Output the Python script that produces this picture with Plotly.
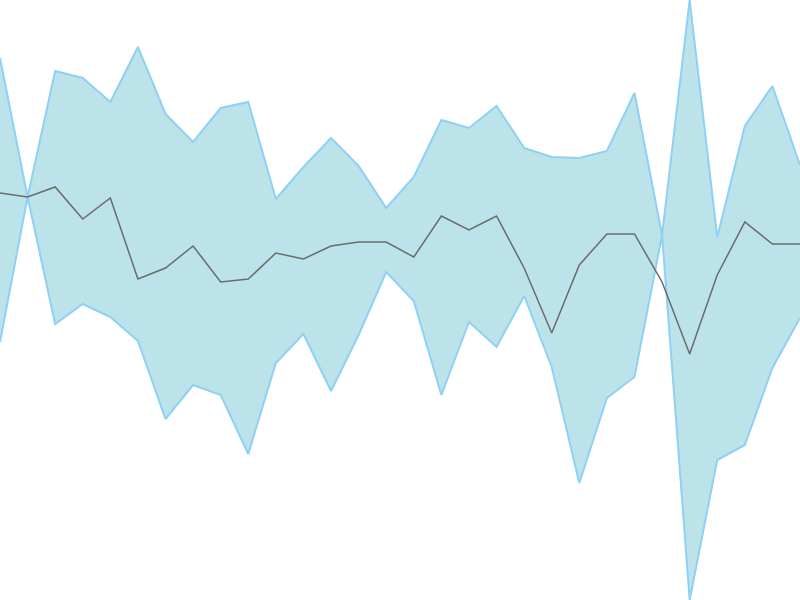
import plotly.graph_objects as go

x = list(range(30))

# band edges and centre line (0 = bottom, 600 = top)
upper = [542, 403, 529, 522, 498, 553, 486, 458, 492, 498,
         401, 433, 462, 434, 392, 423, 480, 472, 494, 452,
         443, 442, 449, 507, 365, 600, 363, 474, 514, 435]
lower = [258, 403, 276, 296, 283, 259, 181, 215, 205, 146,
         237, 266, 209, 265, 328, 299, 205, 278, 253, 304,
         233, 117, 202, 223, 365, 0, 140, 155, 232, 282]
middle = [407, 403, 413, 381, 402, 321, 332, 354, 318, 321,
          347, 341, 354, 358, 358, 343, 384, 370, 384, 332,
          267, 335, 366, 366, 318, 246, 325, 378, 356, 356]

band_line = "#8fd0f5"
band_fill = "rgba(176,222,229,0.85)"

fig = go.Figure()
fig.add_trace(go.Scatter(x=x, y=upper, mode="lines",
                         line=dict(color=band_line, width=2),
                         showlegend=False, hoverinfo="skip"))
fig.add_trace(go.Scatter(x=x, y=lower, mode="lines", fill="tonexty",
                         fillcolor=band_fill,
                         line=dict(color=band_line, width=2),
                         showlegend=False, hoverinfo="skip"))
fig.add_trace(go.Scatter(x=x, y=middle, mode="lines",
                         line=dict(color="#6b6b6b", width=1.5),
                         showlegend=False))

fig.update_layout(
    width=800, height=600,
    margin=dict(l=0, r=0, t=0, b=0),
    paper_bgcolor="white", plot_bgcolor="white",
    xaxis=dict(visible=False, range=[0, 29]),
    yaxis=dict(visible=False, range=[min(lower), max(upper)]),
)

# drop the page's default body margin so the chart sits at the window edge
fig.write_html("out.html", config={"displayModeBar": False},
               post_script="document.body.style.margin='0';")
